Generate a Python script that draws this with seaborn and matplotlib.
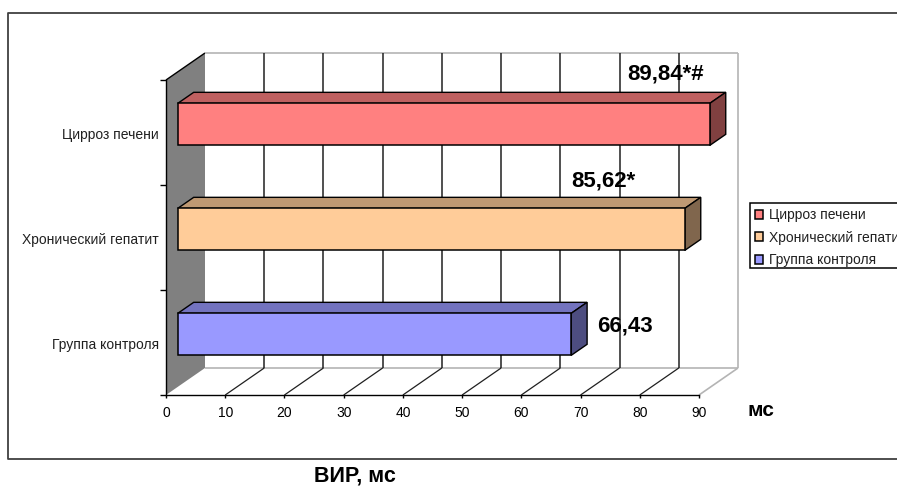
import matplotlib
matplotlib.use("Agg")
import matplotlib.pyplot as plt
import seaborn as sns
from matplotlib.lines import Line2D
from matplotlib.patches import Patch, Polygon, Rectangle
from matplotlib.transforms import Affine2D, IdentityTransform

categories = ["Цирроз печени", "Хронический гепатит", "Группа контроля"]
values = [89.84, 85.62, 66.43]
value_labels = ["89,84*#", "85,62*", "66,43"]
x_ticks = list(range(0, 100, 10))
unit_label = "мс"
footer_title = "ВИР, мс"

front_colors = ["#FF8080", "#FFCC99", "#9999FF"]
top_colors = ["#BF6060", "#BF9973", "#7373BF"]
side_colors = ["#804040", "#80664D", "#4D4D80"]

W, H = 897, 486
DEPTH_X, DEPTH_Y = 39, 27      # pixel shift from the front plane to the back wall
BAR_NEAR, BAR_FAR = 0.30, 0.71 # depth range occupied by the bars
BAR_WIDTH = 0.4
FONT = "Liberation Sans"

sns.set_theme(style="white")
plt.rcParams["font.family"] = [FONT, "DejaVu Sans"]

fig = plt.figure(figsize=(W / 100, H / 100), dpi=100, facecolor="white")
ax = fig.add_axes([166 / W, 1 - 395 / H, (699 - 166) / W, (395 - 80) / H])
ax.patch.set_visible(False)

sns.barplot(x=values, y=categories, hue=categories, palette=front_colors,
            order=categories, hue_order=categories, width=BAR_WIDTH,
            edgecolor="black", linewidth=1.1, saturation=1, legend=False,
            ax=ax, zorder=3)
ax.set(xlabel=None, ylabel=None)
ax.set_xlim(0, 90)
ax.set_ylim(2.5, -0.5)


def depth(d):
    """Transform for data coordinates pushed back by d of the box depth."""
    return ax.transData + Affine2D().translate(d * DEPTH_X, d * DEPTH_Y)


def face(corners, zorder, **kw):
    """Fill a polygon given as (x, y, depth) corners."""
    pts = [depth(d).transform((x, y)) for x, y, d in corners]
    ax.add_patch(Polygon(pts, closed=True, transform=IdentityTransform(),
                         clip_on=False, zorder=zorder, **kw))


def seg(p, q, zorder=1, color="black", lw=1.0):
    """Line between two (x, y, depth) points."""
    a = depth(p[2]).transform(p[:2])
    b = depth(q[2]).transform(q[:2])
    ax.add_line(Line2D([a[0], b[0]], [a[1], b[1]], transform=IdentityTransform(),
                       color=color, lw=lw, clip_on=False, zorder=zorder,
                       solid_capstyle="butt"))


y_top, y_bottom = -0.5, 2.5
x_end = x_ticks[-1]

# Side wall, back wall and floor outline
face([(0, y_bottom, 0), (0, y_bottom, 1), (0, y_top, 1), (0, y_top, 0)], 0.5,
     facecolor="#808080", edgecolor="none")
seg((0, y_top, 0), (0, y_top, 1), zorder=0.6)
for p, q in [((0, y_top, 1), (x_end, y_top, 1)),
             ((x_end, y_top, 1), (x_end, y_bottom, 1)),
             ((0, y_bottom, 1), (x_end, y_bottom, 1)),
             ((x_end, y_bottom, 1), (x_end, y_bottom, 0))]:
    seg(p, q, zorder=0.6, color="#B4B4B4", lw=1.2)

# Gridlines: up the back wall and across the floor
for t in x_ticks[1:-1]:
    seg((t, y_top, 1), (t, y_bottom, 1), zorder=0.8, color="#202020", lw=1.1)
    seg((t, y_bottom, 1), (t, y_bottom, 0), zorder=0.8, color="#202020", lw=0.9)

# Extruded bars: the front faces come from seaborn, top and end faces are added
for rect, val, top_c, side_c in zip(ax.patches, values, top_colors, side_colors):
    rect.set_transform(depth(BAR_NEAR))
    rect.set_clip_on(False)
    y0, y1 = rect.get_y(), rect.get_y() + rect.get_height()
    face([(0, y0, BAR_NEAR), (0, y0, BAR_FAR), (val, y0, BAR_FAR), (val, y0, BAR_NEAR)],
         2.8, facecolor=top_c, edgecolor="black", linewidth=1.0)
    face([(val, y0, BAR_NEAR), (val, y0, BAR_FAR), (val, y1, BAR_FAR), (val, y1, BAR_NEAR)],
         2.8, facecolor=side_c, edgecolor="black", linewidth=1.0)

# Axes: ticks sit on category boundaries, labels on category centres
for name in ("top", "right"):
    ax.spines[name].set_visible(False)
for name in ("left", "bottom"):
    ax.spines[name].set_visible(True)
    ax.spines[name].set_color("black")
    ax.spines[name].set_linewidth(1.0)
ax.set_xticks(x_ticks)
ax.set_xticklabels([str(t) for t in x_ticks])
ax.set_yticks([-0.5, 0.5, 1.5, 2.5])
ax.set_yticklabels([])
ax.set_yticks([0.005, 1.005, 2.005], labels=categories, minor=True)
ax.tick_params(axis="x", which="major", bottom=True, length=2, width=1,
               color="black", labelsize=10, labelcolor="black", pad=6)
ax.tick_params(axis="y", which="major", left=True, length=4, width=1, color="black")
ax.tick_params(axis="y", which="minor", left=False, length=0, labelsize=10,
               labelcolor="#202020", pad=5)

# Value annotations
label_offsets = [(-71, 59), (-102, 57), (38, 17)]
for i, (val, text, off) in enumerate(zip(values, value_labels, label_offsets)):
    ax.annotate(text, xy=(val, i), xytext=off, textcoords="offset pixels",
                ha="left", va="center", fontsize=16, fontweight="bold",
                color="black", annotation_clip=False, zorder=5)

# Legend box runs past the right edge of the figure
fig.add_artist(Rectangle((750 / W, 1 - 268 / H), 200 / W, 65 / H,
                         transform=fig.transFigure, facecolor="white",
                         edgecolor="black", linewidth=1.1))
handles = [Patch(facecolor=c, edgecolor="black", linewidth=1.1, label=n)
           for c, n in zip(front_colors, categories)]
legend = fig.legend(handles=handles, loc="upper left",
                    bbox_to_anchor=(750 / W, 1 - 203 / H),
                    fontsize=10, frameon=False, borderaxespad=0, borderpad=0.36,
                    handlelength=0.6, handleheight=0.6, handletextpad=0.4,
                    labelspacing=0.62)
legend.set_zorder(5)
for t in legend.get_texts():
    t.set_color("#202020")

# Outer chart frame, open on the right
frame_x = [897 / W, 8 / W, 8 / W, 897 / W]
frame_y = [1 - 13 / H, 1 - 13 / H, 1 - 459 / H, 1 - 459 / H]
fig.add_artist(Line2D(frame_x, frame_y, transform=fig.transFigure,
                      color="#404040", lw=1.3))

fig.text(761 / W, 1 - 410 / H, unit_label, ha="center", va="center",
         fontsize=15, fontweight="bold", color="black")
fig.text(355 / W, 1 - 476 / H, footer_title, ha="center", va="center",
         fontsize=15.5, fontweight="bold", color="black")

fig.savefig("out.png", dpi=100)
